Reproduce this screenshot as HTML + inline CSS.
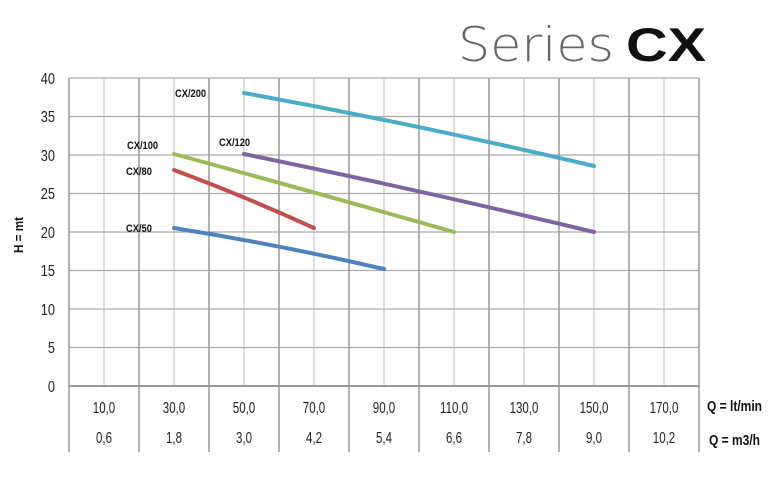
<!DOCTYPE html>
<html><head><meta charset="utf-8"><style>
html,body{margin:0;padding:0;background:#fff;}
svg{display:block}
text{font-family:"Liberation Sans",sans-serif}
</style></head><body>
<svg width="784" height="478" viewBox="0 0 784 478">
<text x="458" y="61" font-size="47" fill="#666" style="font-family:'DejaVu Sans',sans-serif;font-weight:200" textLength="156" lengthAdjust="spacingAndGlyphs">Series</text>
<text x="626" y="61" font-size="47" fill="#111" font-weight="bold" textLength="80" lengthAdjust="spacingAndGlyphs">CX</text>
<g stroke="#aaa" stroke-width="1.3">
<line x1="69" y1="78" x2="699" y2="78"/>
<line x1="69" y1="116.5" x2="699" y2="116.5"/>
<line x1="69" y1="155" x2="699" y2="155"/>
<line x1="69" y1="193.5" x2="699" y2="193.5"/>
<line x1="69" y1="232" x2="699" y2="232"/>
<line x1="69" y1="270.5" x2="699" y2="270.5"/>
<line x1="69" y1="309" x2="699" y2="309"/>
<line x1="69" y1="347.5" x2="699" y2="347.5"/>
</g>
<g stroke="#bbb" stroke-width="1">
<line x1="104" y1="78" x2="104" y2="386"/><line x1="174" y1="78" x2="174" y2="386"/>
<line x1="244" y1="78" x2="244" y2="386"/><line x1="314" y1="78" x2="314" y2="386"/>
<line x1="384" y1="78" x2="384" y2="386"/><line x1="454" y1="78" x2="454" y2="386"/>
<line x1="524" y1="78" x2="524" y2="386"/><line x1="594" y1="78" x2="594" y2="386"/>
<line x1="664" y1="78" x2="664" y2="386"/>
</g>
<g stroke="#999" stroke-width="1.5">
<line x1="69" y1="78" x2="69" y2="452"/><line x1="139" y1="78" x2="139" y2="452"/>
<line x1="209" y1="78" x2="209" y2="452"/><line x1="279" y1="78" x2="279" y2="452"/>
<line x1="349" y1="78" x2="349" y2="452"/><line x1="419" y1="78" x2="419" y2="452"/>
<line x1="489" y1="78" x2="489" y2="452"/><line x1="559" y1="78" x2="559" y2="452"/>
<line x1="629" y1="78" x2="629" y2="452"/><line x1="699" y1="78" x2="699" y2="452"/>
<line x1="69" y1="386" x2="699" y2="386" stroke-width="2"/>
</g>
<g font-size="16" fill="#222" text-anchor="end">
<text transform="translate(55,84) scale(0.8,1)">40</text><text transform="translate(55,122) scale(0.8,1)">35</text><text transform="translate(55,161) scale(0.8,1)">30</text>
<text transform="translate(55,199) scale(0.8,1)">25</text><text transform="translate(55,238) scale(0.8,1)">20</text><text transform="translate(55,276) scale(0.8,1)">15</text>
<text transform="translate(55,315) scale(0.8,1)">10</text><text transform="translate(55,353) scale(0.8,1)">5</text><text transform="translate(55,392) scale(0.8,1)">0</text>
</g>
<text transform="translate(23,235) rotate(-90) scale(0.9,1)" font-size="13" font-weight="bold" text-anchor="middle" fill="#111">H = mt</text>
<g font-size="16" fill="#222" text-anchor="middle">
<text transform="translate(104,413) scale(0.72,1)">10,0</text><text transform="translate(174,413) scale(0.72,1)">30,0</text><text transform="translate(244,413) scale(0.72,1)">50,0</text>
<text transform="translate(314,413) scale(0.72,1)">70,0</text><text transform="translate(384,413) scale(0.72,1)">90,0</text><text transform="translate(454,413) scale(0.72,1)">110,0</text>
<text transform="translate(524,413) scale(0.72,1)">130,0</text><text transform="translate(594,413) scale(0.72,1)">150,0</text><text transform="translate(664,413) scale(0.72,1)">170,0</text>
<text transform="translate(104,443) scale(0.72,1)">0,6</text><text transform="translate(174,443) scale(0.72,1)">1,8</text><text transform="translate(244,443) scale(0.72,1)">3,0</text>
<text transform="translate(314,443) scale(0.72,1)">4,2</text><text transform="translate(384,443) scale(0.72,1)">5,4</text><text transform="translate(454,443) scale(0.72,1)">6,6</text>
<text transform="translate(524,443) scale(0.72,1)">7,8</text><text transform="translate(594,443) scale(0.72,1)">9,0</text><text transform="translate(664,443) scale(0.72,1)">10,2</text>
</g>
<text transform="translate(707,411) scale(0.8,1)" font-size="15" font-weight="bold" fill="#111">Q = lt/min</text>
<text transform="translate(709,445) scale(0.8,1)" font-size="15" font-weight="bold" fill="#111">Q = m3/h</text>
<g fill="none" stroke-width="4" stroke-linecap="round">
<path d="M244,93 Q420,125 594,166" stroke="#4bacc6"/>
<path d="M244,154 Q420,190 594,232" stroke="#8064a2"/>
<path d="M174,154 Q314,192 454,232" stroke="#9bbb59"/>
<path d="M174,170 Q244,196 314,228" stroke="#c0504d"/>
<path d="M174,228 Q280,245 384,269" stroke="#4f81bd"/>
</g>
<g font-size="11" font-weight="bold" fill="#111">
<text transform="translate(175,97) scale(0.85,1)">CX/200</text>
<text transform="translate(127,149) scale(0.85,1)">CX/100</text>
<text transform="translate(219,146) scale(0.85,1)">CX/120</text>
<text transform="translate(126,175) scale(0.85,1)">CX/80</text>
<text transform="translate(126,232) scale(0.85,1)">CX/50</text>
</g>
</svg>
</body></html>
